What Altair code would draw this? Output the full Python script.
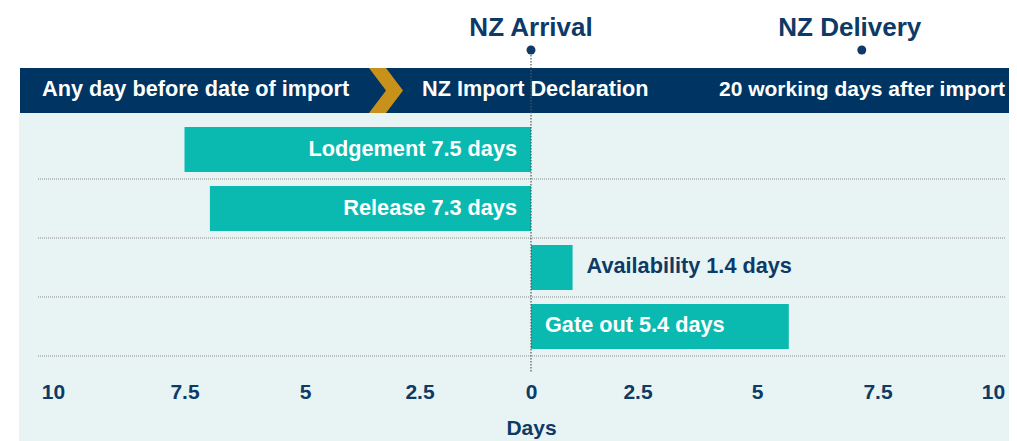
import altair as alt
import pandas as pd

# ---- data -------------------------------------------------------------
categories = ["Lodgement", "Release", "Availability", "Gate out"]
bar_days = [-7.5, -6.95, 0.9, 5.58]
bar_labels = ["Lodgement 7.5 days", "Release 7.3 days",
              "Availability 1.4 days", "Gate out 5.4 days"]

milestones = ["NZ Arrival", "NZ Delivery"]
milestone_days = [0.0, 7.16]

phase_labels = ["Any day before date of import", "NZ Import Declaration",
                "20 working days after import"]

tick_values = [-10, -7.5, -5, -2.5, 0, 2.5, 5, 7.5, 10]

# ---- styles -----------------------------------------------------------
FONT = "Liberation Sans"
NAVY = "#0D3A66"
BAND = "#003462"
TEAL = "#0ABAB0"
GOLD = "#C8921A"
PANEL = "#E8F4F4"

W, H, PB = 1001, 364, 69

bars = pd.DataFrame({"category": categories, "days": bar_days, "label": bar_labels})
ms = pd.DataFrame({"name": milestones, "days": milestone_days})
one = pd.DataFrame({"days": [0.0]})

label_shift = {
    "condition": [
        {"test": "datum.value == -10", "value": -16},
        {"test": "datum.value == -5", "value": 5},
        {"test": "datum.value == -2.5", "value": 4},
        {"test": "datum.value == 2.5", "value": -9},
        {"test": "datum.value == 5", "value": -5},
    ],
    "value": 0,
}

xscale = alt.Scale(domain=[-11.32, 10.346], nice=False, zero=False)
xaxis = alt.Axis(
    values=tick_values,
    labelExpr="'' + abs(datum.value)",
    domain=False, ticks=False, tickSize=0, grid=False,
    labelFlush=False, labelOverlap=False, zindex=2,
    labelPadding=26, labelBaseline="alphabetic",
    labelFont=FONT, labelFontSize=21, labelFontWeight="bold", labelColor=NAVY,
    labelOffset=label_shift,
    title="Days", titleFont=FONT, titleFontSize=21, titleFontWeight="bold",
    titleColor=NAVY, titleX=523, titleY=62, titleBaseline="alphabetic",
    titleAlign="center",
)


def X(field):
    return alt.X(field, type="quantitative", scale=xscale, axis=xaxis)


yenc = alt.Y("category:N", scale=alt.Scale(domain=categories, range=[112, 348],
                                           paddingInner=0.237, paddingOuter=0.1186),
             axis=None)

panel = alt.Chart(one).mark_rect(color=PANEL).encode(
    x=alt.value(11), x2=alt.value(W), y=alt.value(105), y2=alt.value(H + PB))
band = alt.Chart(one).mark_rect(color=BAND).encode(
    x=alt.value(12), x2=alt.value(W), y=alt.value(60), y2=alt.value(105))
chevron = alt.Chart(one).mark_point(
    shape="M-0.756,-1L0,-1L0.756,0L0,1L-0.756,1L0,0Z", size=2025,
    filled=True, color=GOLD, opacity=1, strokeWidth=0).encode(
    x=alt.value(378), y=alt.value(82.5))

phase_x = [34, 414, 711]
phase_size = [21.7, 21.7, 21]
phase_layers = []
for i, t in enumerate(phase_labels):
    phase_layers.append(
        alt.Chart(pd.DataFrame({"t": [t]})).mark_text(
            align="left", baseline="alphabetic", font=FONT, fontSize=phase_size[i],
            fontWeight="bold", color="white").encode(
            x=alt.value(phase_x[i]), y=alt.value(87.7), text="t:N"))

grid = alt.Chart(bars).mark_rule(yOffset=29.5, strokeDash=[1, 1], color="#8a8a8a",
                                 strokeWidth=1).encode(
    y=yenc, x=alt.value(30), x2=alt.value(997))

bar_layer = alt.Chart(bars).mark_bar(color=TEAL).encode(
    x=X("days"), x2=alt.datum(0), y=yenc)

vline = alt.Chart(one).mark_rule(color="#555555", strokeDash=[1.5, 1.5],
                                 strokeWidth=1.2).encode(
    x=X("days"), y=alt.value(47), y2=alt.value(365))

neg_text = alt.Chart(bars).transform_filter("datum.days < 0").transform_calculate(
    anchor="0").mark_text(
    align="right", baseline="alphabetic", dx=-14, dy=6,
    font=FONT, fontSize=21.7, fontWeight="bold", color="white").encode(
    x=X("anchor"), y=yenc, text="label:N")

pos_text = alt.Chart(bars).transform_filter("datum.days >= 0").transform_calculate(
    anchor="datum.days < 2 ? datum.days : 0").mark_text(
    align="left", baseline="alphabetic", dx=14, dy=6,
    font=FONT, fontSize=21.7, fontWeight="bold").encode(
    x=X("anchor"), y=yenc, text="label:N",
    color=alt.condition("datum.days >= 2", alt.value("white"), alt.value(NAVY)))

dots = alt.Chart(ms).mark_circle(size=80, color=NAVY, opacity=1).encode(
    x=X("days"), y=alt.value(42))

arrival_t = alt.Chart(ms).transform_filter("datum.name == 'NZ Arrival'").mark_text(
    align="center", baseline="alphabetic", font=FONT, fontSize=26,
    fontWeight="bold", color=NAVY).encode(x=X("days"), y=alt.value(28), text="name:N")
delivery_t = alt.Chart(ms).transform_filter("datum.name == 'NZ Delivery'").mark_text(
    align="center", baseline="alphabetic", dx=-12, font=FONT, fontSize=26,
    fontWeight="bold", color=NAVY).encode(x=X("days"), y=alt.value(28), text="name:N")

chart = alt.layer(
    panel, band, chevron, *phase_layers, grid, bar_layer, vline,
    neg_text, pos_text, dots, arrival_t, delivery_t
).properties(
    width=W, height=H,
    autosize=alt.AutoSizeParams(type="none"),
    padding={"left": 0, "top": 0, "right": 0, "bottom": PB},
    background="white",
).configure_view(stroke=None)

chart.save("out.html", embed_options={"renderer": "svg", "actions": False})
